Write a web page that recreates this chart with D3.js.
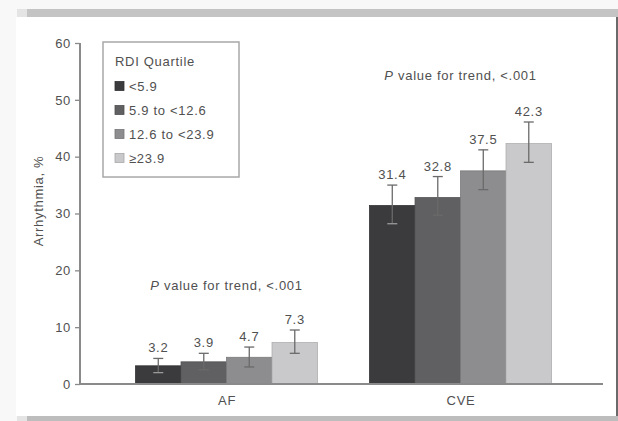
<!DOCTYPE html>
<html>
<head>
<meta charset="utf-8">
<script src="https://cdn.jsdelivr.net/npm/d3@7"></script>
<style>
  html, body { margin: 0; padding: 0; background: #f8f8f8; }
  svg { display: block; }
  text { font-family: "Liberation Sans", Arial, sans-serif; fill: #505050; letter-spacing: 0.7px; }
</style>
</head>
<body>
<svg id="chart" width="618" height="421"></svg>
<script>
// Outcomes and RDI quartile groups
const outcomes = ["AF", "CVE"];
const quartiles = ["<5.9", "5.9 to <12.6", "12.6 to <23.9", "\u226523.9"];
const quartileColors = ["#3b3b3d", "#606062", "#8d8d8f", "#c9c9cb"];

// Prevalence (%) per quartile with 95% CI bounds
const afValues = [3.2, 3.9, 4.7, 7.3];
const afLower  = [2.0, 2.5, 3.0, 5.4];
const afUpper  = [4.5, 5.4, 6.5, 9.5];
const cveValues = [31.4, 32.8, 37.5, 42.3];
const cveLower  = [28.2, 29.7, 34.2, 39.0];
const cveUpper  = [35.0, 36.5, 41.2, 46.1];

const yTicks = [0, 10, 20, 30, 40, 50, 60];
const trendLabels = ["P value for trend, <.001", "P value for trend, <.001"];
const trendLabelY = [16.5, 53.5];

const rows = [
  { outcome: outcomes[0], values: afValues, lower: afLower, upper: afUpper },
  { outcome: outcomes[1], values: cveValues, lower: cveLower, upper: cveUpper }
];

const svg = d3.select("#chart");

// page frame
svg.append("rect").attr("x", 0).attr("y", 0).attr("width", 618).attr("height", 421).attr("fill", "#f8f8f8");
svg.append("rect").attr("x", 16).attr("y", 17).attr("width", 600).attr("height", 399).attr("fill", "#ffffff");
svg.append("rect").attr("x", 17).attr("y", 9).attr("width", 10).attr("height", 8).attr("fill", "#e4e4e4");
svg.append("rect").attr("x", 27).attr("y", 9).attr("width", 591).attr("height", 8).attr("fill", "#c4c4c4");
svg.append("rect").attr("x", 17).attr("y", 416).attr("width", 10).attr("height", 5).attr("fill", "#e4e4e4");
svg.append("rect").attr("x", 27).attr("y", 416).attr("width", 591).attr("height", 5).attr("fill", "#bdbdbd");
svg.append("rect").attr("x", 616).attr("y", 17).attr("width", 2).attr("height", 399).attr("fill", "#6a6a6a");

const x0 = 80, x1 = 603, yBase = 384, yTop = 43;

const y = d3.scaleLinear().domain([0, 60]).range([yBase, yTop]);
const xGroup = d3.scalePoint().domain(outcomes).range([x0, x1]).padding(0.6175).align(0.507);
const xSub = d3.scaleBand().domain(quartiles).range([-91, 91]).padding(0);

// bars
const groups = svg.append("g").selectAll("g")
  .data(rows).join("g")
  .attr("transform", d => `translate(${xGroup(d.outcome)},0)`);

const items = d => quartiles.map((q, i) => ({ q, i, v: d.values[i], lo: d.lower[i], hi: d.upper[i] }));

groups.selectAll("rect.bar")
  .data(items).join("rect")
  .attr("class", "bar")
  .attr("x", d => xSub(d.q))
  .attr("width", xSub.bandwidth())
  .attr("y", d => y(d.v))
  .attr("height", d => y(0) - y(d.v))
  .attr("fill", d => quartileColors[d.i])
  .attr("stroke", d => d3.color(quartileColors[d.i]).darker(0.4))
  .attr("stroke-width", 0.8);

// error bars
const eb = groups.selectAll("g.err")
  .data(items).join("g")
  .attr("class", "err")
  .attr("transform", d => `translate(${xSub(d.q) + xSub.bandwidth() / 2},0)`);
eb.append("line")
  .attr("y1", d => y(d.lo)).attr("y2", d => y(d.hi))
  .attr("stroke", "#6a6a6a").attr("stroke-width", 1.3);
eb.append("line")
  .attr("x1", -5).attr("x2", 5)
  .attr("y1", d => y(d.hi)).attr("y2", d => y(d.hi))
  .attr("stroke", "#6a6a6a").attr("stroke-width", 1.3);
eb.append("line")
  .attr("x1", -5).attr("x2", 5)
  .attr("y1", d => y(d.lo)).attr("y2", d => y(d.lo))
  .attr("stroke", d => d.i === 0 ? "#9a9a9a" : "#6a6a6a").attr("stroke-width", 1.3);

// value labels
eb.append("text")
  .attr("y", d => y(d.hi) - 6)
  .attr("text-anchor", "middle")
  .attr("font-size", 13)
  .text(d => d.v.toFixed(1));

// trend annotations
svg.append("g").selectAll("text")
  .data(outcomes).join("text")
  .attr("x", d => xGroup(d))
  .attr("y", (d, i) => y(trendLabelY[i]))
  .attr("text-anchor", "middle")
  .attr("font-size", 13)
  .each(function (d, i) {
    const t = d3.select(this);
    const s = trendLabels[i];
    t.append("tspan").attr("font-style", "italic").text(s.slice(0, 1));
    t.append("tspan").text(s.slice(1));
  });

// y axis
const yAxis = d3.axisLeft(y).tickValues(yTicks).tickSize(5).tickPadding(4);
const gy = svg.append("g").attr("transform", `translate(${x0},0)`).call(yAxis);
gy.select(".domain").attr("stroke", "#8a8a8a").attr("stroke-width", 2)
  .attr("d", `M0,${yBase}V${yTop}`);
gy.selectAll(".tick line").attr("stroke", "#8a8a8a").attr("stroke-width", 1.3);
gy.selectAll(".tick text").attr("font-size", 13).attr("fill", "#505050")
  .style("font-family", "'Liberation Sans', Arial, sans-serif");

// x axis
const xAxis = d3.axisBottom(xGroup).tickSize(0).tickPadding(12);
const gx = svg.append("g").attr("transform", `translate(0,${yBase})`).call(xAxis);
gx.select(".domain").attr("stroke", "#8a8a8a").attr("stroke-width", 2)
  .attr("d", `M${x0},0H${x1}`);
gx.selectAll(".tick text").attr("font-size", 13).attr("fill", "#505050")
  .style("font-family", "'Liberation Sans', Arial, sans-serif");

// y axis title
svg.append("text")
  .attr("transform", "translate(43,201) rotate(-90)")
  .attr("text-anchor", "middle")
  .attr("font-size", 13)
  .text("Arrhythmia, %");

// legend
const legend = svg.append("g").attr("transform", "translate(103,42)");
legend.append("rect")
  .attr("width", 136).attr("height", 135)
  .attr("fill", "#fff").attr("stroke", "#a8a8a8").attr("stroke-width", 1.5);
legend.append("text")
  .attr("x", 12).attr("y", 24)
  .attr("font-size", 13)
  .text("RDI Quartile");
const li = legend.selectAll("g.item")
  .data(quartiles).join("g")
  .attr("class", "item")
  .attr("transform", (d, i) => `translate(12,${44 + i * 24})`);
li.append("rect")
  .attr("y", -4.5).attr("width", 9).attr("height", 9)
  .attr("fill", (d, i) => quartileColors[i])
  .attr("stroke", (d, i) => d3.color(quartileColors[i]).darker(0.5)).attr("stroke-width", 0.8);
li.append("text")
  .attr("x", 14).attr("y", 4.5)
  .attr("font-size", 13)
  .text(d => d);
</script>
</body>
</html>
